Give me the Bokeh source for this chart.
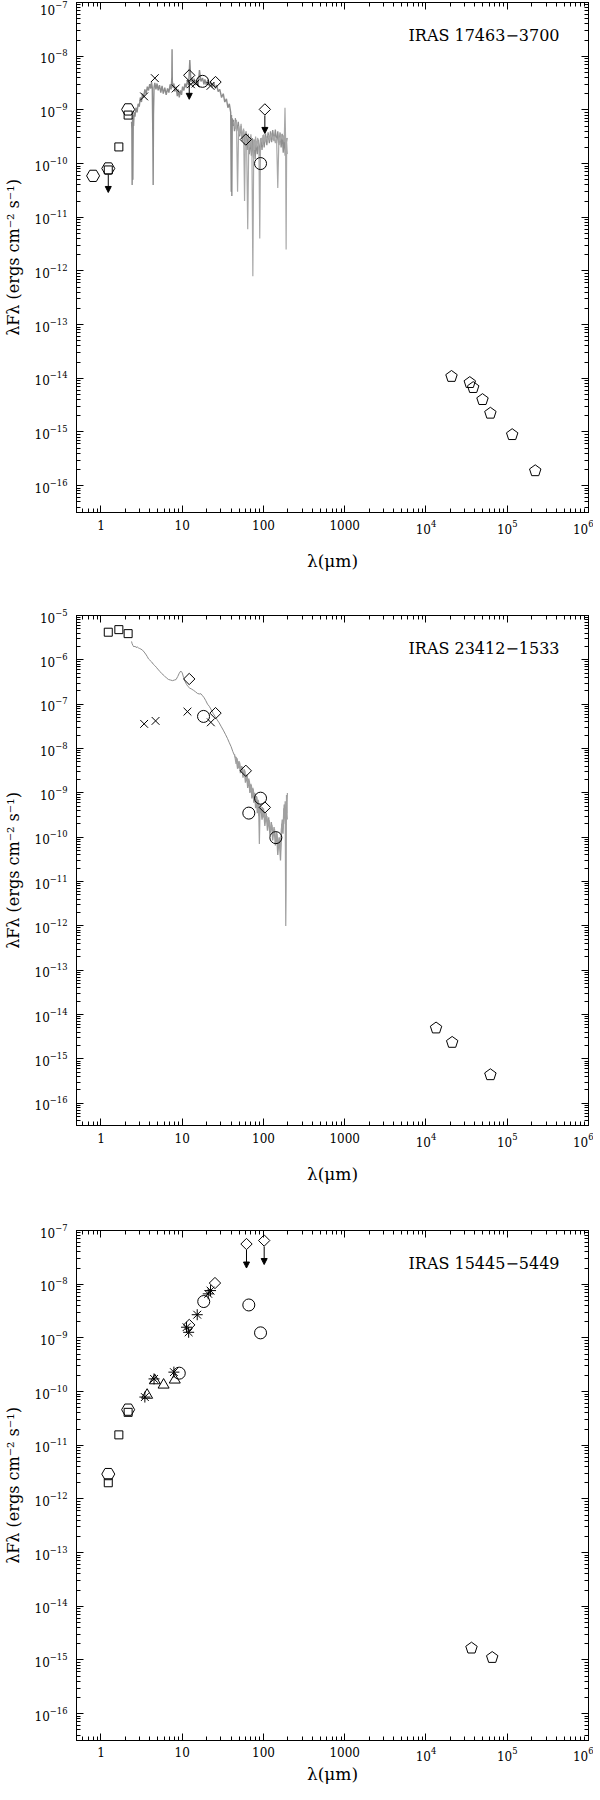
import math
from bokeh.plotting import figure
from bokeh.models import (FixedTicker, LogAxis, LogTickFormatter, CustomJSTickFormatter,
                          Label, Arrow, NormalHead, ColumnDataSource, Range1d)
from bokeh.layouts import column
from bokeh.embed import file_html
from bokeh.resources import INLINE

FONT = "DejaVu Serif"
X_LO, X_HI = 0.5, 1.0e6
Y_LO_EXP = -16.5
FRAME_W, FRAME_H = 512, 510

x_major = [10.0 ** k for k in range(0, 7)]
x_minor = [m * 10.0 ** k for k in range(-1, 6) for m in range(2, 10)]

X_LABEL = "λ(μm)"
Y_LABEL = "λFλ (ergs cm⁻² s⁻¹)"

# ---------------- Panel 1 : IRAS 17463-3700 ----------------
p1_name = "IRAS 17463−3700"
p1_hex_wl = [0.80, 1.23, 2.16]
p1_hex_f = [5.9e-11, 8.1e-11, 1.02e-9]
p1_sq_wl = [1.23, 1.66, 2.16]
p1_sq_f = [7.6e-11, 2.04e-10, 8.0e-10]
p1_x_wl = [3.4, 4.6, 8.3, 12.8, 14.6, 22.3]
p1_x_f = [1.78e-9, 3.9e-9, 2.5e-9, 3.0e-9, 3.1e-9, 2.8e-9]
p1_dia_wl = [12.2, 25.7, 60.6, 104.0]
p1_dia_f = [4.4e-9, 3.3e-9, 2.8e-10, 1.02e-9]
p1_circ_wl = [17.8, 92.0]
p1_circ_f = [3.4e-9, 1.0e-10]
p1_pent_wl = [2.06e4, 3.46e4, 3.81e4, 4.96e4, 6.2e4, 1.15e5, 2.21e5]
p1_pent_f = [1.08e-14, 8.3e-15, 6.7e-15, 4.0e-15, 2.23e-15, 8.9e-16, 1.89e-16]
p1_lim_wl = [1.23, 12.2, 104.0]
p1_lim_f = [8.1e-11, 4.4e-9, 1.02e-9]

p1_sws_wl = [2.38, 2.40, 2.42, 2.45, 2.47, 2.50, 2.52, 2.56, 2.62, 2.70, 2.78, 2.87, 2.96,
             3.05, 3.15, 3.25, 3.35, 3.47, 3.6, 3.72, 3.85, 3.98, 4.1, 4.19, 4.28, 4.35,
             4.39, 4.43, 4.5, 4.6, 4.75, 4.9, 5.06, 5.25, 5.45, 5.65, 5.85, 6.1, 6.35, 6.6,
             6.85, 7.1, 7.3, 7.45, 7.5, 7.55, 7.7, 7.9, 8.1, 8.4, 8.7, 8.9, 9.2, 9.5, 9.8,
             10.1, 10.5, 10.8, 11.2, 11.6, 12.0, 12.4, 12.8, 13.2, 13.6, 14.0, 14.5, 15.0,
             15.7, 16.3, 17.0, 17.8, 18.5, 19.0, 19.8, 20.6, 21.5, 22.4, 23.4, 24.5, 25.6,
             26.6, 27.7, 29.0, 30.5, 32.0, 33.4, 35.0, 36.5, 38.0, 39.5, 40.1, 40.4, 40.8,
             41.3, 42.0, 43.0, 44.0, 45.0]
p1_sws_f = [6.0e-10, 4.5e-10, 4.0e-11, 7.0e-10, 5.0e-11, 8.0e-10, 5.0e-10, 9.0e-10, 7.5e-10,
            1.1e-9, 9.0e-10, 1.3e-9, 1.15e-9, 1.7e-9, 1.4e-9, 2.0e-9, 1.7e-9, 2.4e-9, 2.0e-9,
            2.7e-9, 2.3e-9, 3.0e-9, 2.5e-9, 3.3e-9, 2.6e-9, 3.0e-10, 4.0e-11, 8.0e-10, 2.6e-9,
            3.2e-9, 2.4e-9, 3.1e-9, 2.3e-9, 2.9e-9, 2.1e-9, 2.8e-9, 2.0e-9, 2.6e-9, 1.9e-9,
            2.5e-9, 2.1e-9, 3.0e-9, 2.4e-9, 4.0e-9, 1.35e-8, 3.5e-9, 2.6e-9, 3.1e-9, 2.2e-9,
            2.7e-9, 1.8e-9, 2.4e-9, 1.7e-9, 2.3e-9, 1.9e-9, 2.7e-9, 2.3e-9, 3.1e-9, 2.6e-9,
            3.6e-9, 2.9e-9, 8.5e-9, 3.3e-9, 4.0e-9, 3.0e-9, 3.8e-9, 2.9e-9, 3.6e-9, 2.8e-9,
            5.5e-9, 3.4e-9, 3.9e-9, 3.0e-9, 3.7e-9, 2.9e-9, 3.6e-9, 2.8e-9, 3.4e-9, 2.6e-9,
            3.2e-9, 2.5e-9, 2.9e-9, 2.2e-9, 2.4e-9, 1.7e-9, 2.0e-9, 1.4e-9, 1.6e-9, 1.1e-9,
            1.3e-9, 9.0e-10, 3.0e-11, 8.0e-10, 2.5e-11, 7.0e-10, 5.0e-10, 6.5e-10, 4.0e-10,
            5.0e-10]
p1_lws_wl = [43, 45, 46.5, 48, 49.5, 51, 53, 55, 57, 58.5, 60, 62, 64, 66, 68, 70, 72, 74,
             76, 78, 80, 82, 85, 88, 90, 92, 95, 98, 101, 104, 108, 112, 116, 120, 125, 130,
             135, 140, 145, 150, 155, 160, 165, 170, 175, 180, 184, 187, 190, 193, 197]
p1_lws_f = [6.0e-10, 4.5e-10, 6.5e-10, 3.0e-11, 5.0e-10, 3.5e-10, 5.5e-10, 3.0e-10, 4.5e-10,
            2.0e-11, 3.5e-10, 2.5e-10, 6.0e-12, 3.0e-10, 2.0e-10, 3.5e-10, 2.2e-10, 8.0e-13,
            2.8e-10, 1.8e-10, 3.2e-10, 2.0e-10, 3.0e-10, 1.8e-10, 4.0e-12, 2.5e-10, 3.0e-10,
            2.2e-10, 3.5e-10, 2.5e-10, 3.2e-10, 2.6e-10, 3.4e-10, 2.7e-10, 3.6e-10, 2.8e-10,
            3.3e-10, 2.4e-10, 3.0e-10, 3.5e-11, 3.2e-10, 2.6e-10, 3.5e-10, 2.8e-10, 3.3e-10,
            2.5e-10, 1.1e-9, 3.0e-10, 2.5e-12, 2.5e-10, 3.0e-10]
p1_lws2_wl = [45, 47, 49, 51, 53, 55, 57, 59, 61, 63, 65, 67, 69, 71, 73, 75, 77, 79, 81,
              84, 87, 90, 93, 96, 99, 102, 106, 110, 114, 118, 122, 126, 130, 135, 140, 145,
              150, 155, 160, 165, 170, 175, 180, 185, 190, 195]
p1_lws2_f = [7.0e-10, 4.0e-10, 6.0e-10, 3.2e-10, 5.0e-10, 2.6e-10, 4.2e-10, 2.2e-10, 4.0e-10,
             1.8e-10, 3.6e-10, 1.5e-10, 3.2e-10, 1.4e-10, 3.0e-10, 1.3e-10, 2.8e-10, 1.2e-10,
             2.6e-10, 1.5e-10, 2.8e-10, 1.4e-10, 3.0e-10, 1.8e-10, 3.4e-10, 2.0e-10, 3.6e-10,
             2.2e-10, 3.8e-10, 2.4e-10, 4.0e-10, 2.5e-10, 4.2e-10, 2.6e-10, 4.3e-10, 2.4e-10,
             4.0e-10, 2.2e-10, 3.8e-10, 2.0e-10, 3.6e-10, 1.6e-10, 3.4e-10, 1.4e-10, 3.0e-10,
             1.5e-10]

# ---------------- Panel 2 : IRAS 23412-1533 ----------------
p2_name = "IRAS 23412−1533"
p2_sq_wl = [1.23, 1.66, 2.16]
p2_sq_f = [4.2e-6, 4.8e-6, 3.9e-6]
p2_x_wl = [3.4, 4.7, 11.6, 22.5]
p2_x_f = [3.6e-8, 4.2e-8, 6.8e-8, 3.9e-8]
p2_dia_wl = [12.2, 25.7, 60.6, 104.0]
p2_dia_f = [3.7e-7, 6.3e-8, 3.15e-9, 4.7e-10]
p2_circ_wl = [18.3, 66.0, 92.0, 142.0]
p2_circ_f = [5.3e-8, 3.5e-10, 7.6e-10, 9.8e-11]
p2_pent_wl = [1.33e4, 2.1e4, 6.2e4]
p2_pent_f = [4.98e-15, 2.36e-15, 4.4e-16]

p2_sws_wl = [2.38, 2.42, 2.48, 2.55, 2.62, 2.70, 2.80, 2.90, 3.00, 3.10, 3.25, 3.40, 3.55,
             3.70, 3.85, 4.00, 4.20, 4.40, 4.60, 4.80, 5.00, 5.30, 5.60, 6.00, 6.40, 6.80,
             7.20, 7.60, 8.00, 8.40, 8.80, 9.20, 9.60, 10.0, 10.4, 10.8, 11.3, 11.8, 12.4,
             13.0, 13.8, 14.6, 15.4, 16.2, 17.0, 17.8, 18.6, 19.5, 20.5, 21.5, 22.5, 24.0,
             25.5, 27.0, 28.5, 30.0, 32.0, 34.0, 36.0, 38.0, 40.0, 42.0, 44.0, 45.5]
p2_sws_f = [2.6e-6, 2.3e-6, 2.1e-6, 1.95e-6, 2.05e-6, 1.9e-6, 1.95e-6, 1.85e-6, 1.8e-6,
            1.75e-6, 1.65e-6, 1.5e-6, 1.35e-6, 1.2e-6, 1.05e-6, 9.8e-7, 9.0e-7, 8.0e-7,
            7.4e-7, 6.8e-7, 6.2e-7, 5.5e-7, 4.9e-7, 4.4e-7, 3.9e-7, 3.6e-7, 3.5e-7, 3.4e-7,
            3.5e-7, 3.6e-7, 4.2e-7, 5.0e-7, 5.6e-7, 5.1e-7, 4.0e-7, 3.3e-7, 2.8e-7, 2.5e-7,
            2.3e-7, 2.2e-7, 2.05e-7, 1.9e-7, 1.75e-7, 1.7e-7, 1.72e-7, 1.55e-7, 1.4e-7,
            1.2e-7, 1.0e-7, 9.0e-8, 7.8e-8, 6.2e-8, 5.2e-8, 4.4e-8, 3.8e-8, 3.2e-8, 2.6e-8,
            2.1e-8, 1.7e-8, 1.35e-8, 1.1e-8, 8.5e-9, 7.0e-9, 6.0e-9]
p2_lws_wl = [44, 46, 47.5, 49, 51, 53, 55, 57, 59, 61, 63, 65, 67, 69, 71, 73, 75, 77, 79,
             81, 83, 85, 87, 89, 91, 94, 97, 100, 103, 106, 110, 114, 118, 122, 127, 132,
             137, 142, 147, 152, 157, 162, 166, 170, 174, 178, 182, 185, 188, 190, 192, 194,
             197]
p2_lws_f = [7.5e-9, 4.5e-9, 6.0e-9, 3.6e-9, 4.8e-9, 2.9e-9, 3.8e-9, 2.4e-9, 3.2e-9, 1.9e-9,
            2.5e-9, 1.5e-9, 1.9e-9, 1.1e-9, 1.5e-9, 8.5e-10, 1.2e-9, 7.0e-10, 9.5e-10,
            5.5e-10, 8.0e-10, 4.0e-10, 6.5e-10, 7.0e-11, 5.5e-10, 3.5e-10, 4.8e-10, 2.8e-10,
            3.8e-10, 2.2e-10, 3.0e-10, 1.8e-10, 2.4e-10, 1.4e-10, 1.9e-10, 1.1e-10, 1.5e-10,
            8.0e-11, 1.2e-10, 6.0e-11, 9.5e-11, 5.0e-11, 1.5e-10, 2.5e-10, 1.6e-10, 4.5e-10,
            2.8e-10, 6.5e-10, 1.0e-12, 8.0e-12, 9.0e-10, 3.5e-10, 1.0e-9]
p2_lws2_wl = [46, 48, 50, 52, 54, 56, 58, 60, 62, 64, 66, 68, 70, 72, 74, 76, 78, 80, 82,
              84, 86, 88, 92, 96, 100, 104, 108, 112, 116, 120, 125, 130, 135, 140, 145,
              150, 156, 162, 168, 174, 180, 186, 192, 196]
p2_lws2_f = [6.5e-9, 3.5e-9, 5.2e-9, 2.8e-9, 4.0e-9, 2.2e-9, 3.4e-9, 1.7e-9, 2.6e-9, 1.3e-9,
             2.1e-9, 1.0e-9, 1.6e-9, 7.5e-10, 1.3e-9, 6.0e-10, 1.0e-9, 4.5e-10, 8.5e-10,
             3.5e-10, 7.0e-10, 3.0e-10, 5.5e-10, 2.5e-10, 4.5e-10, 1.8e-10, 3.5e-10, 1.4e-10,
             2.8e-10, 1.1e-10, 2.2e-10, 8.5e-11, 1.7e-10, 6.5e-11, 1.3e-10, 4.0e-11, 1.0e-10,
             3.0e-11, 2.0e-10, 1.2e-10, 5.5e-10, 2.0e-10, 6.0e-10, 2.5e-10]

# ---------------- Panel 3 : IRAS 15445-5449 ----------------
p3_name = "IRAS 15445−5449"
p3_hex_wl = [1.23, 2.16]
p3_hex_f = [2.9e-12, 4.6e-11]
p3_sq_wl = [1.23, 1.66, 2.16]
p3_sq_f = [2.0e-12, 1.56e-11, 4.1e-11]
p3_tri_wl = [3.7, 4.6, 5.9, 8.1]
p3_tri_f = [8.6e-11, 1.6e-10, 1.33e-10, 1.65e-10]
p3_ast_wl = [3.47, 4.5, 7.9, 11.3, 12.0, 15.3, 20.9, 22.3]
p3_ast_f = [7.9e-11, 1.72e-10, 2.3e-10, 1.58e-9, 1.27e-9, 2.7e-9, 6.6e-9, 7.6e-9]
p3_dia_wl = [12.2, 25.3, 61.8, 102.0]
p3_dia_f = [1.74e-9, 1.05e-8, 5.6e-8, 6.5e-8]
p3_circ_wl = [9.2, 18.4, 66.0, 92.0]
p3_circ_f = [2.2e-10, 4.75e-9, 4.1e-9, 1.24e-9]
p3_pent_wl = [3.63e4, 6.53e4]
p3_pent_f = [1.66e-15, 1.11e-15]
p3_lim_wl = [61.8, 102.0]
p3_lim_f = [5.6e-8, 6.5e-8]


def style_axis(ax, labels=True):
    ax.axis_line_color = "black"
    ax.axis_line_width = 1
    ax.major_tick_line_color = "black"
    ax.minor_tick_line_color = "black"
    ax.major_tick_in = 7
    ax.major_tick_out = 0
    ax.minor_tick_in = 4
    ax.minor_tick_out = 0
    ax.major_label_text_font = FONT
    ax.major_label_text_color = "black"
    ax.axis_label_text_font = FONT
    ax.axis_label_text_font_style = "normal"
    ax.axis_label_text_color = "black"
    if labels:
        ax.major_label_text_font_size = "12px"
    else:
        ax.major_label_text_font_size = "0px"
        ax.major_label_standoff = 0
        ax.formatter = CustomJSTickFormatter(code="return ''")


def make_fig(y_top_exp, min_top, min_bottom, tick_standoff, xlab_standoff):
    p = figure(x_axis_type="log", y_axis_type="log",
               x_range=Range1d(X_LO, X_HI),
               y_range=Range1d(10.0 ** Y_LO_EXP, 10.0 ** y_top_exp),
               frame_width=FRAME_W, frame_height=FRAME_H,
               min_border_left=67, min_border_right=5,
               min_border_top=min_top, min_border_bottom=min_bottom,
               output_backend="svg", toolbar_location=None,
               background_fill_color="white", border_fill_color="white")
    p.grid.visible = False
    p.outline_line_color = "black"
    y_major = [10.0 ** k for k in range(-16, y_top_exp + 1)]
    y_minor = [m * 10.0 ** k for k in range(-17, y_top_exp) for m in range(2, 10)]

    xa = p.xaxis[0]
    ya = p.yaxis[0]
    xa.ticker = FixedTicker(ticks=x_major, minor_ticks=x_minor)
    ya.ticker = FixedTicker(ticks=y_major, minor_ticks=y_minor)
    style_axis(xa)
    style_axis(ya)
    xa.formatter = LogTickFormatter(min_exponent=4)
    ya.formatter = LogTickFormatter()
    xa.axis_label = X_LABEL
    xa.axis_label_text_font_size = "17px"
    xa.major_label_standoff = tick_standoff
    xa.axis_label_standoff = xlab_standoff
    ya.axis_label = Y_LABEL
    ya.axis_label_text_font_size = "16px"
    ya.major_label_standoff = 9
    ya.axis_label_standoff = 9

    top = LogAxis(ticker=FixedTicker(ticks=x_major, minor_ticks=x_minor))
    style_axis(top, labels=False)
    p.add_layout(top, "above")
    right = LogAxis(ticker=FixedTicker(ticks=y_major, minor_ticks=y_minor))
    style_axis(right, labels=False)
    p.add_layout(right, "right")
    return p


def add_pentagons(p, wl, f, y_top_exp, r=6.0):
    dx = FRAME_W / (math.log10(X_HI) - math.log10(X_LO))
    dy = FRAME_H / (y_top_exp - Y_LO_EXP)
    xs, ys = [], []
    for w, v in zip(wl, f):
        ang = [math.radians(90 + 72 * k) for k in range(5)]
        xs.append([w * 10 ** (r * math.cos(a) / dx) for a in ang])
        ys.append([v * 10 ** (r * math.sin(a) / dy) for a in ang])
    p.patches(xs, ys, fill_color=None, line_color="black", line_width=1)


def add_limits(p, wl, f, y_top_exp):
    dy = FRAME_H / (y_top_exp - Y_LO_EXP)
    src = ColumnDataSource(dict(x=wl,
                                y0=[v * 10 ** (-6.0 / dy) for v in f],
                                y1=[v * 10 ** (-24.0 / dy) for v in f]))
    p.add_layout(Arrow(end=NormalHead(size=6, fill_color="black", line_color="black", line_width=1),
                       x_start="x", y_start="y0", x_end="x", y_end="y1",
                       line_color="black", line_width=1, source=src))


def marker(p, wl, f, kind, size, angle=0.0):
    p.scatter(wl, f, marker=kind, size=size, angle=angle,
              fill_color=None, line_color="black", line_width=1)


def add_name(p, name, yval):
    p.add_layout(Label(x=4.4e5, y=yval, text=name, text_align="right",
                       text_baseline="middle", text_font=FONT,
                       text_font_size="16px", text_color="black"))


DIA = math.pi / 4

# Panel 1
f1 = make_fig(-7, 2, 75, 7, 14)
f1.line(p1_lws2_wl, p1_lws2_f, line_color="#8f8f8f", line_width=1.3)
f1.line(p1_sws_wl, p1_sws_f, line_color="#8c8c8c", line_width=1.4)
f1.line(p1_lws_wl, p1_lws_f, line_color="#a8a8a8", line_width=1.2)
marker(f1, p1_hex_wl, p1_hex_f, "hex", 13)
marker(f1, p1_sq_wl, p1_sq_f, "square", 8)
marker(f1, p1_x_wl, p1_x_f, "x", 11)
marker(f1, p1_dia_wl, p1_dia_f, "square", 8, DIA)
marker(f1, p1_circ_wl, p1_circ_f, "circle", 12)
add_pentagons(f1, p1_pent_wl, p1_pent_f, -7)
add_limits(f1, p1_lim_wl, p1_lim_f, -7)
add_name(f1, p1_name, 2.46e-8)

# Panel 2
f2 = make_fig(-5, 28, 77, 7, 14)
f2.line(p2_lws2_wl, p2_lws2_f, line_color="#9a9a9a", line_width=1.3)
f2.line(p2_sws_wl, p2_sws_f, line_color="#8c8c8c", line_width=1)
f2.line(p2_lws_wl, p2_lws_f, line_color="#a0a0a0", line_width=1.2)
marker(f2, p2_sq_wl, p2_sq_f, "square", 8)
marker(f2, p2_x_wl, p2_x_f, "x", 11)
marker(f2, p2_dia_wl, p2_dia_f, "square", 8, DIA)
marker(f2, p2_circ_wl, p2_circ_f, "circle", 12)
add_pentagons(f2, p2_pent_wl, p2_pent_f, -5)
add_name(f2, p2_name, 1.83e-6)

# Panel 3
f3 = make_fig(-7, 28, 44, 6, 0)
marker(f3, p3_hex_wl, p3_hex_f, "hex", 13)
marker(f3, p3_sq_wl, p3_sq_f, "square", 8)
marker(f3, p3_tri_wl, p3_tri_f, "triangle", 11)
marker(f3, p3_ast_wl, p3_ast_f, "asterisk", 11)
marker(f3, p3_dia_wl, p3_dia_f, "square", 8, DIA)
marker(f3, p3_circ_wl, p3_circ_f, "circle", 12)
add_pentagons(f3, p3_pent_wl, p3_pent_f, -7)
add_limits(f3, p3_lim_wl, p3_lim_f, -7)
add_name(f3, p3_name, 2.46e-8)

layout = column(f1, f2, f3, spacing=0)
open("out.html", "w").write(file_html(layout, INLINE))
